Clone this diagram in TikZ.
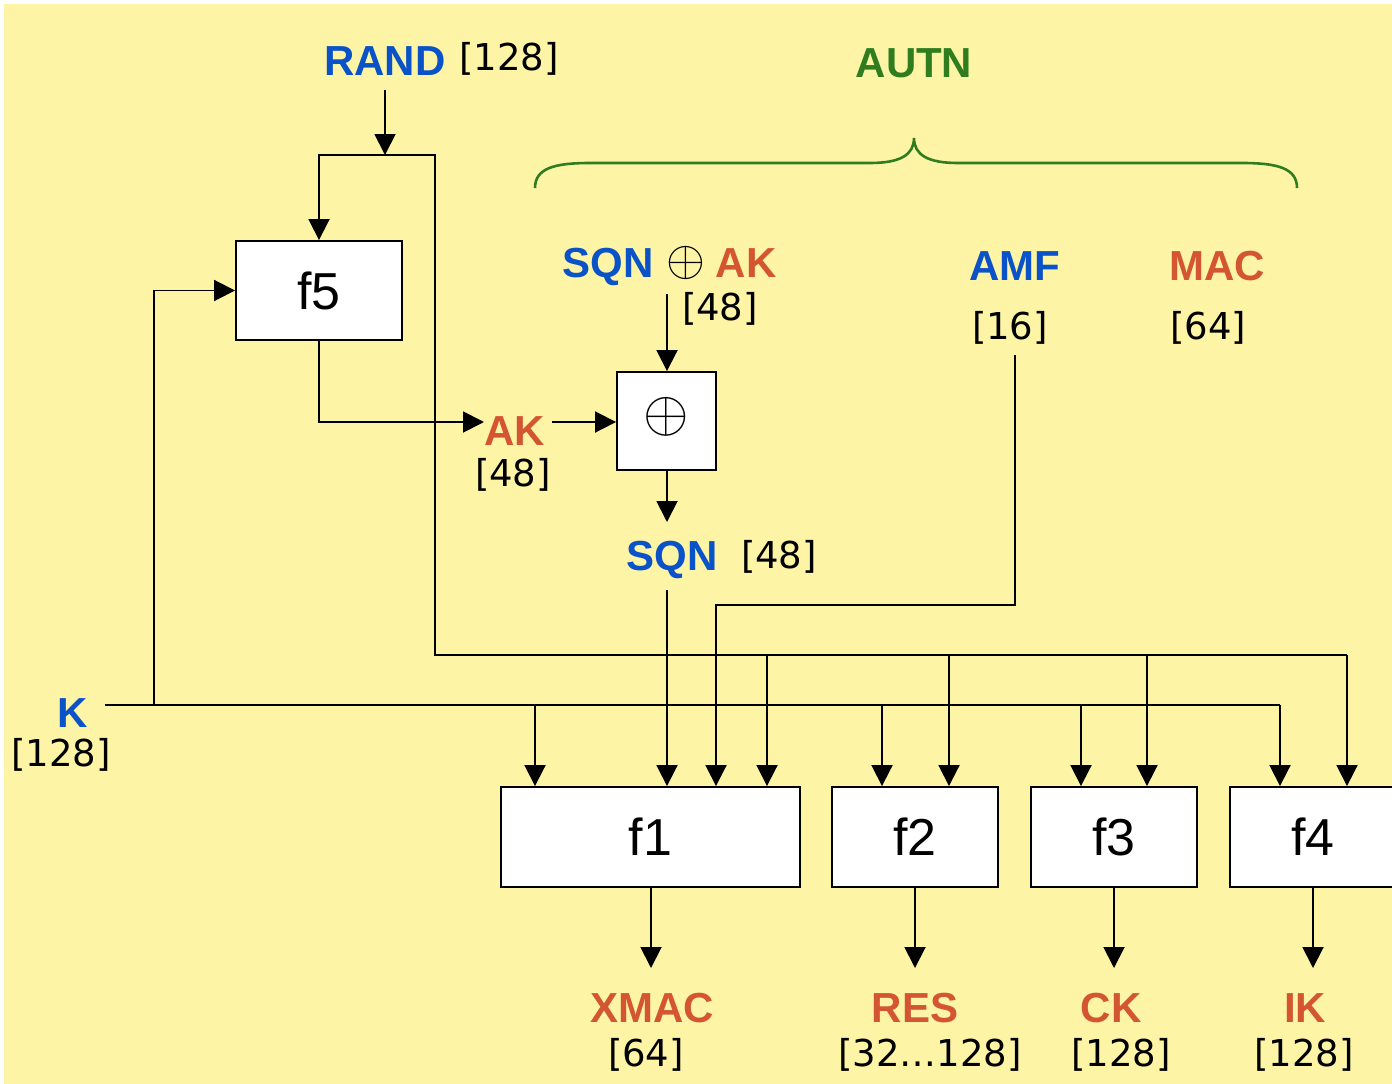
\documentclass[tikz,border=0pt]{standalone}
\usepackage{fontspec}
\setmainfont{Liberation Sans}
\newfontfamily\numfont{DejaVu Sans}
\usetikzlibrary{arrows.meta}
\definecolor{bg}{HTML}{FDF4A6}
\definecolor{lblue}{HTML}{0A52C8}
\definecolor{lred}{HTML}{D35532}
\definecolor{lgreen}{HTML}{2F7D1E}
\begin{document}
\begin{tikzpicture}[x=1pt,y=-1pt,
  wire/.style={line width=1.9pt},
  arr/.style={wire,-{Triangle[length=21pt,width=21pt]}},
  fbox/.style={draw,line width=1.9pt,fill=white,font=\fontsize{52}{52}\selectfont,inner sep=0pt,minimum height=100pt},
  lab/.style={font=\fontsize{42}{42}\selectfont\bfseries,inner sep=0pt,anchor=base},
  num/.style={font=\numfont\fontsize{37}{37}\selectfont,inner sep=0pt,anchor=base},
  sym/.style={font=\normalsize,inner sep=0pt,scale=5}]
\useasboundingbox (0,0) rectangle (1392,1084);
\fill[bg] (4,4) rectangle (1392,1084);
\clip (0,0) rectangle (1392,1084);

% boxes
\node[fbox,minimum width=166pt,minimum height=99pt] (f5) at (319,290.5) {f5};
\node[fbox,minimum width=99pt,minimum height=98pt] (xor) at (666.5,421) {};
\node[sym,scale=1.17] (xorsym) at (666.5,417) {$\oplus$};
\node[fbox,minimum width=299pt] (f1) at (650.5,837) {f1};
\node[fbox,minimum width=166pt] (f2) at (915,837) {f2};
\node[fbox,minimum width=166pt] (f3) at (1114,837) {f3};
\node[fbox,minimum width=166pt] (f4) at (1313,837) {f4};

% labels
\node[lab,text=lblue] (rand) at (385,75) {RAND};
\node[num] (randn) at (509,70) {[128]};
\node[lab,text=lgreen] (autn) at (914,77) {AUTN};
\node[lab,text=lblue] (sqnx) at (608,277) {SQN};
\node[sym] (oplus) at (686,263) {$\oplus$};
\node[lab,text=lred] (akx) at (746,277) {AK};
\node[num] (sqnxn) at (720,320) {[48]};
\node[lab,text=lblue] (amf) at (1015,280) {AMF};
\node[num] (amfn) at (1010,339) {[16]};
\node[lab,text=lred] (mac) at (1217,280) {MAC};
\node[num] (macn) at (1208,339) {[64]};
\node[lab,text=lred] (ak) at (515,445) {AK};
\node[num] (akn) at (513,486) {[48]};
\node[lab,text=lblue] (sqn) at (672,570) {SQN};
\node[num] (sqnn) at (779,568) {[48]};
\node[lab,text=lblue] (k) at (73,727) {K};
\node[num] (kn) at (61,766) {[128]};
\node[lab,text=lred] (xmac) at (652,1022) {XMAC};
\node[num] (xmacn) at (646,1066) {[64]};
\node[lab,text=lred] (res) at (915,1022) {RES};
\node[num] (resn) at (930,1066) {[32…128]};
\node[lab,text=lred] (ck) at (1111,1022) {CK};
\node[num] (ckn) at (1121,1066) {[128]};
\node[lab,text=lred] (ik) at (1305,1022) {IK};
\node[num] (ikn) at (1304,1066) {[128]};

% coordinates
\coordinate (randtop) at (385,90);
\coordinate (rj) at (385,155);
\coordinate (rbus) at (435,655);
\coordinate (r1) at (767,655);
\coordinate (r2) at (949,655);
\coordinate (r3) at (1147,655);
\coordinate (rend) at (1347,655);
\coordinate (kstart) at (105,705);
\coordinate (k0) at (154,705);
\coordinate (k1) at (535,705);
\coordinate (k2) at (882,705);
\coordinate (k3) at (1081,705);
\coordinate (kend) at (1280,705);
\coordinate (akin) at (484,422);
\coordinate (akout) at (552,422);
\coordinate (sxa) at (667,294);
\coordinate (sqnin) at (667,522);
\coordinate (sqnout) at (667,590);
\coordinate (amfout) at (1015,355);
\coordinate (amfbend) at (716,605);
\coordinate (xmacin) at (651,968);
\coordinate (resin) at (915,968);
\coordinate (ckin) at (1114,968);
\coordinate (ikin) at (1313,968);

% RAND
\draw[arr] (randtop) -- (rj);
\draw[arr] (rj) -| (f5.north);
\draw[wire] (rj) -| (rbus) -- (rend);
\draw[arr] (r1) -- (r1 |- f1.north);
\draw[arr] (r2) -- (r2 |- f2.north);
\draw[arr] (r3) -- (r3 |- f3.north);
\draw[arr] (rend) -- (rend |- f4.north);
% K
\draw[wire] (kstart) -- (kend);
\draw[arr] (k0) |- (f5.west);
\draw[arr] (k1) -- (k1 |- f1.north);
\draw[arr] (k2) -- (k2 |- f2.north);
\draw[arr] (k3) -- (k3 |- f3.north);
\draw[arr] (kend) -- (kend |- f4.north);
% AK
\draw[arr] (f5.south) |- (akin);
\draw[arr] (akout) -- (akout -| xor.west);
\draw[arr] (sxa) -- (sxa |- xor.north);
\draw[arr] (sxa |- xor.south) -- (sqnin);
\draw[arr] (sqnout) -- (sqnout |- f1.north);
\draw[arr] (amfout) |- (amfbend) -- (amfbend |- f1.north);
% outputs
\draw[arr] (xmacin |- f1.south) -- (xmacin);
\draw[arr] (f2.south) -- (resin);
\draw[arr] (f3.south) -- (ckin);
\draw[arr] (f4.south) -- (ikin);
% brace
\draw[lgreen,line width=2.6pt] (535,188) .. controls (535,168) and (555,163) .. (590,163) -- (870,163) .. controls (900,163) and (914,155) .. (914,138) .. controls (914,155) and (928,163) .. (958,163) -- (1242,163) .. controls (1277,163) and (1297,168) .. (1297,188);
\end{tikzpicture}
\end{document}
